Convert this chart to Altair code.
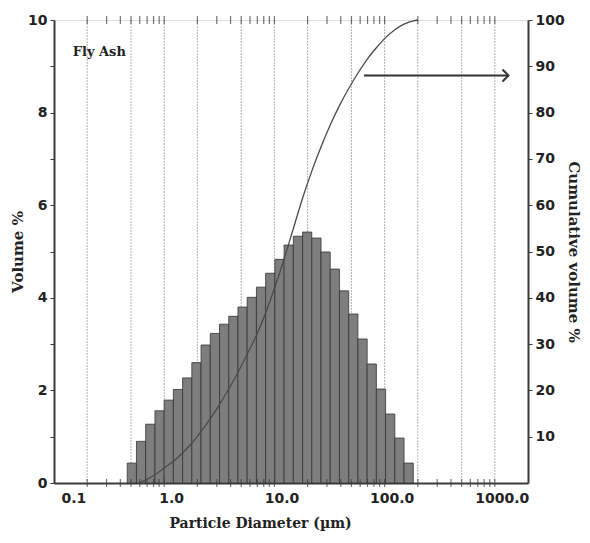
import altair as alt
import pandas as pd

# ---- data ----
bin_lo = [0.462, 0.560, 0.679, 0.824, 0.999, 1.211, 1.469, 1.781, 2.160, 2.619,
          3.176, 3.851, 4.670, 5.663, 6.867, 8.327, 10.10, 12.24, 14.85, 18.01,
          21.83, 26.48, 32.10, 38.93, 47.21, 57.24, 69.41, 84.17, 102.1, 123.8, 150.1]
bin_hi = [0.560, 0.679, 0.824, 0.999, 1.211, 1.469, 1.781, 2.160, 2.619, 3.176,
          3.851, 4.670, 5.663, 6.867, 8.327, 10.10, 12.24, 14.85, 18.01, 21.83,
          26.48, 32.10, 38.93, 47.21, 57.24, 69.41, 84.17, 102.1, 123.8, 150.1, 182.0]
volume = [0.43, 0.90, 1.27, 1.56, 1.79, 2.02, 2.27, 2.60, 2.98, 3.23,
          3.43, 3.60, 3.80, 4.01, 4.23, 4.53, 4.83, 5.14, 5.33, 5.42,
          5.29, 4.99, 4.62, 4.15, 3.65, 3.11, 2.57, 2.03, 1.49, 0.97, 0.43]

cum_size = [0.59, 0.7, 0.85, 1.04, 1.3, 1.6, 1.93, 2.4, 3.0, 3.7, 4.6, 5.6, 6.9, 8.4,
            10.2, 12.4, 15.0, 18.0, 21.8, 26.5, 32.1, 38.9, 47.2, 57.2, 69.4, 84.2,
            102.0, 124.0, 150.0, 182.0, 200.0]
cum_pct = [0, 0.8, 2.0, 3.5, 5.3, 7.4, 9.6, 12.6, 16.0, 19.6, 23.6, 27.6, 32.0, 37.0,
           42.6, 48.8, 55.3, 61.5, 67.3, 72.6, 77.3, 81.5, 85.2, 88.5, 91.5, 94.0,
           96.2, 97.9, 99.1, 99.8, 100.0]

x_labels = [0.1, 1, 10, 100, 1000]
grid_at = [0.2, 0.5, 1, 2, 5, 10, 20, 50, 100, 200, 500, 1000]
minor_ticks = [0.2, 0.3, 0.4, 0.5, 0.6, 0.7, 0.8, 0.9, 1,
               2, 3, 4, 5, 6, 7, 8, 9, 10,
               20, 30, 40, 50, 60, 70, 80, 90, 100,
               200, 300, 400, 500, 600, 700, 800, 900, 1000]
left_ticks = [0, 1, 2, 3, 4, 5, 6, 7, 8, 9, 10]
right_ticks = [10, 20, 30, 40, 50, 60, 70, 80, 90, 100]

arrow_from, arrow_to, arrow_level = 65, 1330, 88
note_x, note_y, note = 0.148, 9.3, "Fly Ash"

# ---- layout ----
W, H = 474, 463
INK = "#3a3a3a"
xs = alt.Scale(type="log", domain=[0.1, 2000], nice=False)
yl = alt.Scale(domain=[0, 10], nice=False)
yr = alt.Scale(domain=[0, 100], nice=False)

bars_df = pd.DataFrame({"lo": bin_lo, "hi": bin_hi, "v": volume})
cum_df = pd.DataFrame({"d": cum_size, "c": cum_pct})
grid_df = pd.DataFrame({"g": grid_at})
tick_df = pd.DataFrame({"t": minor_ticks})
arrow_df = pd.DataFrame({"a": [arrow_from], "b": [arrow_to], "y": [arrow_level]})
note_df = pd.DataFrame({"x": [note_x], "y": [note_y], "t": [note]})

tick_font = dict(labelFont="DejaVu Sans", labelFontWeight="bold", labelFontSize=14,
                 labelColor="#222222", titleFont="DejaVu Serif", titleFontWeight="bold",
                 titleFontSize=15, titleColor="#222222")

x_font = dict(tick_font, titleFontSize=14)

x_axis = alt.Axis(values=x_labels, labelExpr="format(datum.value, '.1f')",
                  title="Particle Diameter (µm)", grid=False, ticks=False,
                  domainColor=INK, domainWidth=2, labelOffset=7, labelPadding=8,
                  titlePadding=11, titleX=206, titleAlign="center", **x_font)

left_axis = alt.Axis(values=left_ticks, labelExpr="datum.value % 2 == 0 ? datum.label : ''",
                     title="Volume %", orient="left", grid=False, tickSize=4,
                     tickColor=INK, domainColor=INK, domainWidth=2, labelPadding=3,
                     titlePadding=2, **tick_font)

right_axis = alt.Axis(values=right_ticks, title="Cumulative volume %", orient="right",
                      grid=False, tickSize=4, tickColor=INK, domainColor=INK,
                      domainWidth=2, labelPadding=3, titlePadding=1, titleAngle=90,
                      **tick_font)


def X(field):
    return alt.X(field, scale=xs, axis=x_axis)


grid = alt.Chart(grid_df).mark_rule(color="#b4b4b4", strokeWidth=1, strokeDash=[2, 1]).encode(
    x=X("g:Q"))

bars = alt.Chart(bars_df).mark_rect(fill="#7e7e7e", stroke="#333333", strokeWidth=0.8).encode(
    x=X("lo:Q"),
    x2="hi:Q",
    y=alt.Y("v:Q", scale=yl, axis=left_axis),
    y2=alt.datum(0))

curve = alt.Chart(cum_df).mark_line(color="#4a4a4a", strokeWidth=1.3, interpolate="monotone").encode(
    x=X("d:Q"),
    y=alt.Y("c:Q", scale=yr, axis=right_axis))

arrow_line = alt.Chart(arrow_df).mark_rule(color="#333333", strokeWidth=2).encode(
    x=X("a:Q"), x2="b:Q",
    y=alt.Y("y:Q", scale=yr, axis=None))

arrow_head = alt.Chart(arrow_df).mark_point(shape="M-1,-1L0,0L-1,1", filled=False, size=144,
                                             strokeWidth=2, color="#333333", opacity=1).encode(
    x=X("b:Q"),
    y=alt.Y("y:Q", scale=yr, axis=None))

label = alt.Chart(note_df).mark_text(align="left", baseline="middle", font="DejaVu Serif",
                                     fontWeight="bold", fontSize=13, color="#222222").encode(
    x=X("x:Q"),
    y=alt.Y("y:Q", scale=yl, axis=None),
    text="t:N")

ticks_top = alt.Chart(tick_df).mark_tick(color=INK, thickness=1.2, size=8).encode(
    x=X("t:Q"), y=alt.value(0))
ticks_bottom = alt.Chart(tick_df).mark_tick(color=INK, thickness=1.2, size=8).encode(
    x=X("t:Q"), y=alt.value(H))

chart = alt.layer(grid, bars, curve, arrow_line, arrow_head, label, ticks_top, ticks_bottom).resolve_scale(
    y="independent").properties(
    width=W, height=H,
    autosize=alt.AutoSizeParams(type="none"),
    padding={"left": 46, "top": 12, "right": 54, "bottom": 52},
).configure_view(stroke=INK, strokeWidth=2).configure(background="white")

chart.save("out.html", embed_options={"renderer": "svg", "actions": False})
